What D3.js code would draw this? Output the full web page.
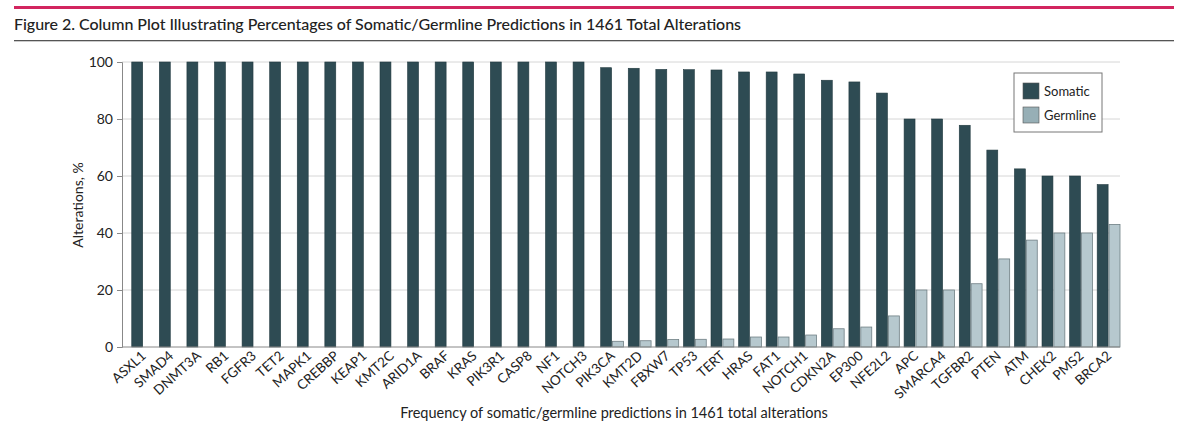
<!DOCTYPE html>
<html>
<head>
<meta charset="utf-8">
<script src="https://cdn.jsdelivr.net/npm/d3@7"></script>
<style>
  body { margin: 0; background: #fff; }
  svg text { font-family: Lato, "Open Sans", sans-serif; fill: #222; }
</style>
</head>
<body>
<div id="chart"></div>
<script>
// gene names, in plotted order
var genes = ["ASXL1", "SMAD4", "DNMT3A", "RB1", "FGFR3", "TET2", "MAPK1", "CREBBP", "KEAP1",
  "KMT2C", "ARID1A", "BRAF", "KRAS", "PIK3R1", "CASP8", "NF1", "NOTCH3", "PIK3CA", "KMT2D",
  "FBXW7", "TP53", "TERT", "HRAS", "FAT1", "NOTCH1", "CDKN2A", "EP300", "NFE2L2", "APC",
  "SMARCA4", "TGFBR2", "PTEN", "ATM", "CHEK2", "PMS2", "BRCA2"];

var somatic = [100, 100, 100, 100, 100, 100, 100, 100, 100,
  100, 100, 100, 100, 100, 100, 100, 100, 98, 97.8,
  97.4, 97.3, 97.2, 96.5, 96.5, 95.8, 93.6, 93, 89.1, 80,
  80, 77.8, 69.1, 62.5, 60, 60, 57];

var germline = [0, 0, 0, 0, 0, 0, 0, 0, 0,
  0, 0, 0, 0, 0, 0, 0, 0, 2, 2.2,
  2.6, 2.7, 2.8, 3.5, 3.5, 4.2, 6.4, 7, 10.9, 20,
  20, 22.2, 30.9, 37.5, 40, 40, 43];

var yTicks = [0, 20, 40, 60, 80, 100];
var seriesNames = ["Somatic", "Germline"];

var colors = { somatic: "#2e4b53", germline: "#b6c8ce", germlineKey: "#97afb6" };

var width = 1200, height = 446;

var svg = d3.select("#chart").append("svg")
    .attr("width", width)
    .attr("height", height);

// header rules + title
svg.append("rect").attr("x", 14).attr("y", 6).attr("width", 1160).attr("height", 3).attr("fill", "#d2255f");
svg.append("text")
    .attr("x", 14).attr("y", 30)
    .style("font-size", "16px").style("font-weight", 500)
    .attr("textLength", 727)
    .text("Figure 2. Column Plot Illustrating Percentages of Somatic/Germline Predictions in 1461 Total Alterations");
svg.append("rect").attr("x", 14).attr("y", 40).attr("width", 1160).attr("height", 1.3).attr("fill", "#555");

//scales
var x0 = d3.scaleBand().domain(genes).range([127, 1120]);
var x1 = d3.scaleBand().domain(seriesNames).range([0, x0.bandwidth()])
    .paddingInner(0.08).paddingOuter(0.2).align(1);
var y = d3.scaleLinear().domain([0, 100]).range([347, 62]);

// gridlines
svg.append("g").selectAll("line")
    .data(yTicks.filter(function(d){ return d > 0; }))
    .enter().append("line")
    .attr("x1", 122).attr("x2", 1120)
    .attr("y1", function(d){ return y(d); })
    .attr("y2", function(d){ return y(d); })
    .style("stroke", "#d6d6d6").style("stroke-width", 1);

// bars
var rows = genes.map(function(g, i){ return {gene: g, s: somatic[i], g: germline[i]}; });

var grp = svg.append("g").selectAll("g")
    .data(rows)
    .enter().append("g")
    .attr("transform", function(d){ return "translate(" + x0(d.gene) + ",0)"; });

grp.append("rect")
    .attr("x", x1("Somatic"))
    .attr("width", x1.bandwidth())
    .attr("y", function(d){ return y(d.s); })
    .attr("height", function(d){ return y(0) - y(d.s); })
    .style("fill", colors.somatic)
    .style("stroke", "#223a40").style("stroke-width", 0.6);

grp.filter(function(d){ return d.g > 0; }).append("rect")
    .attr("x", x1("Germline"))
    .attr("width", x1.bandwidth())
    .attr("y", function(d){ return y(d.g); })
    .attr("height", function(d){ return y(0) - y(d.g); })
    .style("fill", colors.germline)
    .style("stroke", "#6f7f84").style("stroke-width", 0.8);

// y axis
var yAxis = svg.append("g")
    .attr("transform", "translate(122,0)")
    .call(d3.axisLeft(y).tickValues(yTicks).tickSize(5).tickPadding(4));
yAxis.select(".domain").style("stroke", "#888");
yAxis.selectAll(".tick line").style("stroke", "#888");
yAxis.selectAll("text").style("font-size", "14px").style("font-family", "Lato, sans-serif").style("fill", "#222");

// x axis base line
svg.append("line")
    .attr("x1", 122).attr("x2", 1120)
    .attr("y1", y(0)).attr("y2", y(0))
    .style("stroke", "#888");

// x labels, rotated
svg.append("g").selectAll("text")
    .data(genes)
    .enter().append("text")
    .attr("text-anchor", "end")
    .style("font-size", "13.5px")
    .attr("transform", function(d){
        return "translate(" + (x0(d) + x0.bandwidth() / 2 + 6) + ",357) rotate(-42)";
    })
    .text(function(d){ return d; });

// axis titles
svg.append("text")
    .attr("transform", "translate(83,205) rotate(-90)")
    .attr("text-anchor", "middle")
    .style("font-size", "14px")
    .text("Alterations, %");

svg.append("text")
    .attr("x", 614).attr("y", 418)
    .attr("text-anchor", "middle")
    .style("font-size", "14.5px")
    .text("Frequency of somatic/germline predictions in 1461 total alterations");

/////////////key//////////////
var legend = svg.append("g").attr("transform", "translate(1014,73)");
legend.append("rect")
    .attr("width", 88).attr("height", 59)
    .style("fill", "white").style("stroke", "#777").style("stroke-width", 1);

var keyItems = legend.selectAll(".key")
    .data([{name: seriesNames[0], color: colors.somatic}, {name: seriesNames[1], color: colors.germlineKey}])
    .enter().append("g")
    .attr("transform", function(d, i){ return "translate(9," + (10 + i * 24) + ")"; });

keyItems.append("rect")
    .attr("width", 16).attr("height", 16)
    .style("fill", function(d){ return d.color; })
    .style("stroke", "#555").style("stroke-width", 0.6);

keyItems.append("text")
    .attr("x", 21).attr("y", 13)
    .style("font-size", "13px")
    .text(function(d){ return d.name; });
</script>
</body>
</html>
